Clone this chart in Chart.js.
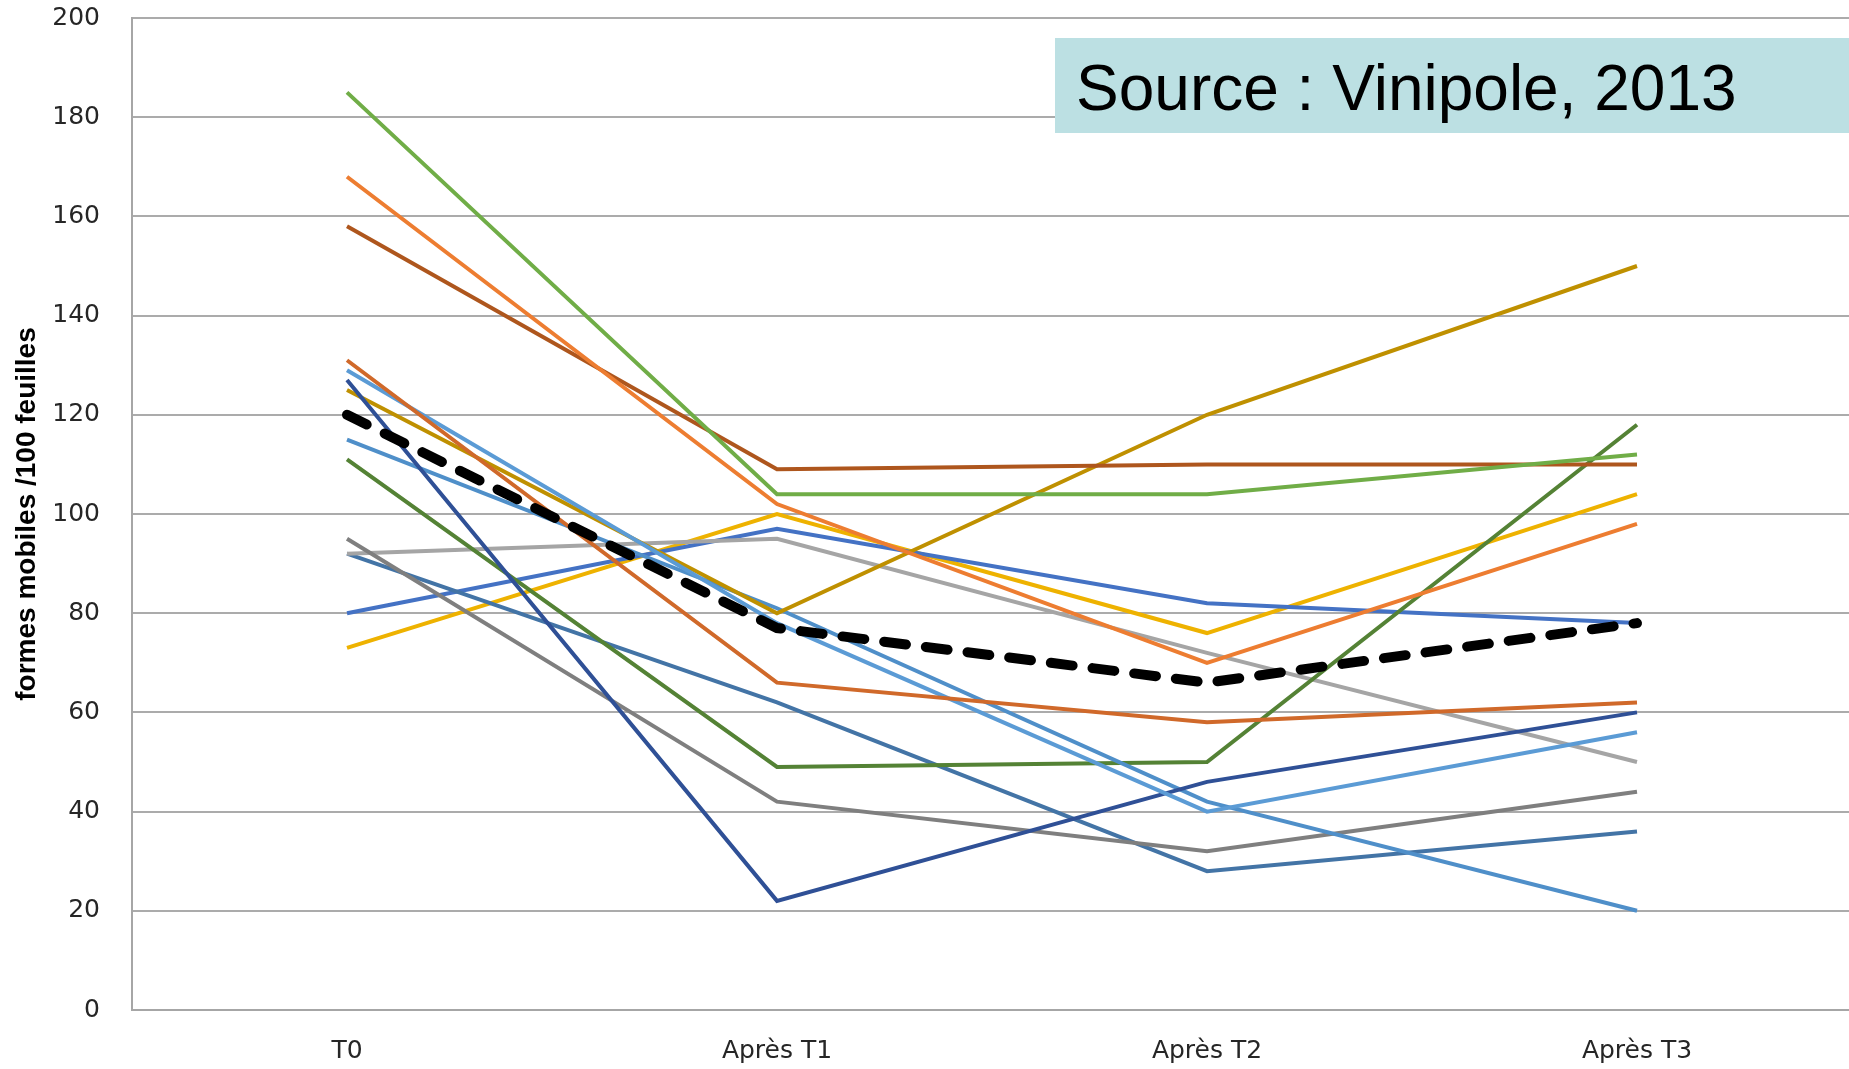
<!DOCTYPE html>
<html>
<head>
<meta charset="utf-8">
<script src="https://cdn.jsdelivr.net/npm/chart.js@4/dist/chart.umd.min.js"></script>
<style>
  html, body { margin: 0; padding: 0; background: #fff; overflow: hidden; }
  #wrap { position: relative; width: 1852px; height: 1069px; }
  #source {
    position: absolute; left: 1055px; top: 38px; width: 800px; height: 95px;
    background: #BCE0E3; box-sizing: border-box; padding: 18px 0 0 21px;
    font-family: "Liberation Sans", Arial, sans-serif; font-size: 64px; line-height: 64px; color: #000;
  }
</style>
</head>
<body>
<div id="wrap">
  <canvas id="chart" width="1852" height="1069"></canvas>
  <div id="source">Source : Vinipole, 2013</div>
</div>
<script>
// categories & values
let categories = ["T0", "Après T1", "Après T2", "Après T3"];
let yTicks = [0, 20, 40, 60, 80, 100, 120, 140, 160, 180, 200];

let moyenne     = [120, 77, 66, 78];
let vert        = [185, 104, 104, 112];
let orange      = [168, 102, 70, 98];
let brun        = [158, 109, 110, 110];
let orangeFonce = [131, 66, 58, 62];
let bleuClair   = [129, 78, 40, 56];
let bleuNuit    = [127, 22, 46, 60];
let dore        = [125, 80, 120, 150];
let bleuMoyen   = [115, 81, 42, 20];
let vertFonce   = [111, 49, 50, 118];
let grisFonce   = [95, 42, 32, 44];
let gris        = [92, 95, 72, 50];
let bleuAcier   = [92, 62, 28, 36];
let bleu        = [80, 97, 82, 78];
let jaune       = [73, 100, 76, 104];

function serie(data, color){
  return {
    data: data,
    borderColor: color,
    backgroundColor: color,
    borderWidth: 4,
    pointRadius: 0,
    tension: 0,
    fill: false
  };
}

let datasets = [
  // average first so it is drawn on top
  {
    data: moyenne,
    borderColor: "#000",
    borderWidth: 10,
    borderDash: [22, 20],
    borderCapStyle: "round",
    pointRadius: 0,
    tension: 0,
    fill: false
  },
  serie(vert, "#70AD47"),
  serie(orange, "#ED7D31"),
  serie(brun, "#AE561D"),
  serie(orangeFonce, "#D0692A"),
  serie(bleuClair, "#5B9BD5"),
  serie(bleuNuit, "#2F5096"),
  serie(dore, "#BF9000"),
  serie(bleuMoyen, "#4F8FC9"),
  serie(vertFonce, "#548235"),
  serie(grisFonce, "#7F7F7F"),
  serie(gris, "#A5A5A5"),
  serie(bleuAcier, "#4374A6"),
  serie(bleu, "#4472C4"),
  serie(jaune, "#EEB200")
];

let ctx = document.getElementById("chart").getContext("2d");
let chart = new Chart(ctx, {
  type: "line",
  data: { labels: categories, datasets: datasets },
  options: {
    responsive: false,
    animation: false,
    layout: { padding: { top: 18, right: 0, bottom: 0, left: 0 } },
    plugins: {
      legend: { display: false },
      tooltip: { enabled: false }
    },
    scales: {
      x: {
        offset: true,
        grid: { display: false, drawTicks: false },
        border: { display: true, color: "#A6A6A6", width: 2 },
        ticks: {
          padding: 26,
          color: "#262626",
          font: { family: "DejaVu Sans", size: 25 }
        },
        afterFit: function(scale){ scale.height = 59; }
      },
      y: {
        min: 0,
        max: 200,
        afterBuildTicks: function(scale){
          scale.ticks = yTicks.map(v => ({ value: v }));
        },
        grid: { color: "#ABABAB", lineWidth: 2, drawTicks: false },
        border: { display: true, color: "#A6A6A6", width: 2 },
        ticks: {
          padding: 32,
          color: "#262626",
          font: { family: "DejaVu Sans", size: 25 }
        },
        title: {
          display: true,
          text: "formes mobiles /100 feuilles",
          color: "#000",
          padding: { top: 10, bottom: 4 },
          font: { family: "Liberation Sans", size: 28, weight: "bold" }
        },
        afterFit: function(scale){
          scale.width = 132;
          // tick padding would otherwise push the plot top down
          scale.paddingTop = 0;
          scale.paddingBottom = 0;
        }
      }
    }
  }
});
</script>
</body>
</html>
